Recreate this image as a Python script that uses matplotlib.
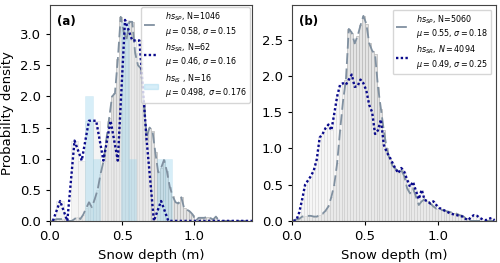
import numpy as np
import matplotlib
matplotlib.use("Agg")
import matplotlib.pyplot as plt

# panel (a): SP histogram, bins of 0.02 (density values)
sp_a_x = np.arange(0.01, 1.40, 0.02)
sp_a = [0.0, 0.02, 0.03, 0.03, 0.03, 0.03, 0.0, 0.0, 0.03, 0.07,
        0.03, 0.1, 0.2, 0.3, 0.22, 0.35, 0.5, 0.75, 0.95, 1.3,
        1.65, 2.0, 2.05, 2.6, 3.28, 3.05, 2.9, 3.2, 3.2, 2.7,
        2.5, 2.45, 1.9, 1.35, 1.5, 1.45, 1.1, 0.78, 0.85, 0.98,
        0.8, 0.55, 0.4, 0.3, 0.28, 0.38, 0.2, 0.18, 0.15, 0.1,
        0.0, 0.05, 0.05, 0.05, 0.07, 0.05, 0.02, 0.07, 0.0, 0.0,
        0.0, 0.0, 0.0, 0.0, 0.0, 0.0, 0.0, 0.0, 0.0, 0.0]

# panel (a): SR histogram, bins of 0.05
sr_a_x = np.arange(0.02, 1.45, 0.05)
sr_a = [0.0, 0.32, 0.0, 1.29, 0.97, 1.61, 1.61, 0.97, 1.61, 0.97,
        3.23, 2.9, 2.9, 1.29, 0.0, 0.32, 0.0, 0.0, 0.0, 0.0,
        0.0, 0.0, 0.0, 0.0, 0.0, 0.0, 0.0, 0.0, 0.0]

# panel (a): IS histogram
is_a_x = [0.27, 0.32, 0.37, 0.42, 0.47, 0.52, 0.57, 0.62, 0.67, 0.72, 0.77, 0.82]
is_a = [2.0, 1.0, 0.0, 0.0, 0.0, 3.2, 1.0, 0.0, 0.0, 0.0, 1.0, 1.0]

# panel (b)
b_x = np.arange(0.01, 1.40, 0.02)
sp_b = [0.01, 0.02, 0.03, 0.06, 0.07, 0.07, 0.07, 0.06, 0.06, 0.08,
        0.1, 0.14, 0.2, 0.33, 0.5, 0.8, 1.25, 1.65, 1.95, 2.65,
        2.6, 2.45, 2.55, 2.7, 2.83, 2.72, 2.45, 2.35, 2.3, 1.85,
        1.55, 1.25, 1.0, 0.85, 0.76, 0.72, 0.68, 0.7, 0.62, 0.45,
        0.38, 0.45, 0.34, 0.22, 0.27, 0.3, 0.28, 0.24, 0.2, 0.17,
        0.16, 0.15, 0.14, 0.13, 0.12, 0.11, 0.1, 0.08, 0.07, 0.04,
        0.02, 0.0, 0.0, 0.0, 0.0, 0.0, 0.0, 0.0, 0.0, 0.0]
sr_b = [0.0, 0.01, 0.12, 0.3, 0.5, 0.56, 0.62, 0.7, 0.85, 1.15,
        1.2, 1.28, 1.33, 1.25, 1.48, 1.72, 1.88, 1.9, 1.88, 1.95,
        2.02, 1.85, 1.86, 1.95, 1.9, 1.8, 1.6, 1.5, 1.2, 1.25,
        1.4, 1.05, 0.95, 0.88, 0.8, 0.72, 0.66, 0.73, 0.68, 0.57,
        0.47, 0.54, 0.42, 0.3, 0.43, 0.29, 0.27, 0.24, 0.27, 0.22,
        0.18, 0.16, 0.14, 0.12, 0.1, 0.09, 0.08, 0.07, 0.06, 0.03,
        0.01, 0.06, 0.08, 0.07, 0.04, 0.02, 0.01, 0.03, 0.04, 0.01]

lab_a = [r'$hs_{SP}$, N=1046' + '\n' + r'$\mu=0.58$, $\sigma=0.15$',
         r'$hs_{SR}$, N=62' + '\n' + r'$\mu=0.46$, $\sigma=0.16$',
         r'$hs_{IS}$ , N=16' + '\n' + r'$\mu=0.498$, $\sigma=0.176$']
lab_b = [r'$hs_{SP}$, N=5060' + '\n' + r'$\mu=0.55$, $\sigma=0.18$',
         r'$hs_{SR}$, $N=4094$' + '\n' + r'$\mu=0.49$, $\sigma=0.25$']

line_sp = dict(color='#8090a0', ls=(0, (6, 2.5)), lw=1.3)
line_sr = dict(color='#0a0a8c', ls=(0, (1, 1)), lw=1.7)

fig = plt.figure(figsize=(5.0, 2.63), dpi=100)
ax1 = fig.add_axes([0.10, 0.16, 0.404, 0.821])
ax2 = fig.add_axes([0.584, 0.16, 0.408, 0.821])

# (a)
ax1.bar(sp_a_x, sp_a, width=0.02, color='#e4e4e4', edgecolor='#b8b8b8', lw=0.5)
ax1.bar(sr_a_x, sr_a, width=0.05, color='#eeeeee', edgecolor='#d4d4d4', lw=0.5, alpha=0.6)
ax1.bar(is_a_x, is_a, width=0.05, color='#87ceeb', edgecolor='#b0dcec', lw=0.5, alpha=0.33)
h1, = ax1.plot(sp_a_x, sp_a, **line_sp)
h2, = ax1.plot(sr_a_x, sr_a, **line_sr)
h3 = plt.Rectangle((0, 0), 1, 1, color='#87ceeb', alpha=0.33)
ax1.legend([h1, h2, h3], lab_a, loc='upper right', fontsize=5.8,
           borderaxespad=0.25, handlelength=1.7, handletextpad=0.8, labelspacing=0.45)
ax1.set_xlim(0, 1.4)
ax1.set_ylim(0, 3.47)
ax1.set_yticks([0.0, 0.5, 1.0, 1.5, 2.0, 2.5, 3.0])
ax1.set_ylabel('Probability density', fontsize=9.5)
ax1.set_xlabel('Snow depth (m)', fontsize=9.5)
ax1.text(0.035, 0.955, '(a)', transform=ax1.transAxes, fontsize=8.5,
         fontweight='bold', va='top')

# (b)
ax2.bar(b_x, sp_b, width=0.02, color='#e4e4e4', edgecolor='#b8b8b8', lw=0.5)
ax2.bar(b_x, sr_b, width=0.02, color='#eeeeee', edgecolor='#d0d0d0', lw=0.5, alpha=0.5)
g1, = ax2.plot(b_x, sp_b, **line_sp)
g2, = ax2.plot(b_x, sr_b, **line_sr)
ax2.legend([g1, g2], lab_b, loc='upper right', fontsize=5.8,
           borderaxespad=0.6, handlelength=1.7, handletextpad=0.8, labelspacing=0.45)
ax2.set_xlim(0, 1.4)
ax2.set_ylim(0, 2.98)
ax2.set_yticks([0.0, 0.5, 1.0, 1.5, 2.0, 2.5])
ax2.set_xlabel('Snow depth (m)', fontsize=9.5)
ax2.text(0.035, 0.955, '(b)', transform=ax2.transAxes, fontsize=8.5,
         fontweight='bold', va='top')

for ax in (ax1, ax2):
    ax.set_xticks([0.0, 0.5, 1.0])
    ax.tick_params(labelsize=9.5, length=3)
    for s in ax.spines.values():
        s.set_color('#444444')

fig.savefig('out.png', dpi=100)
